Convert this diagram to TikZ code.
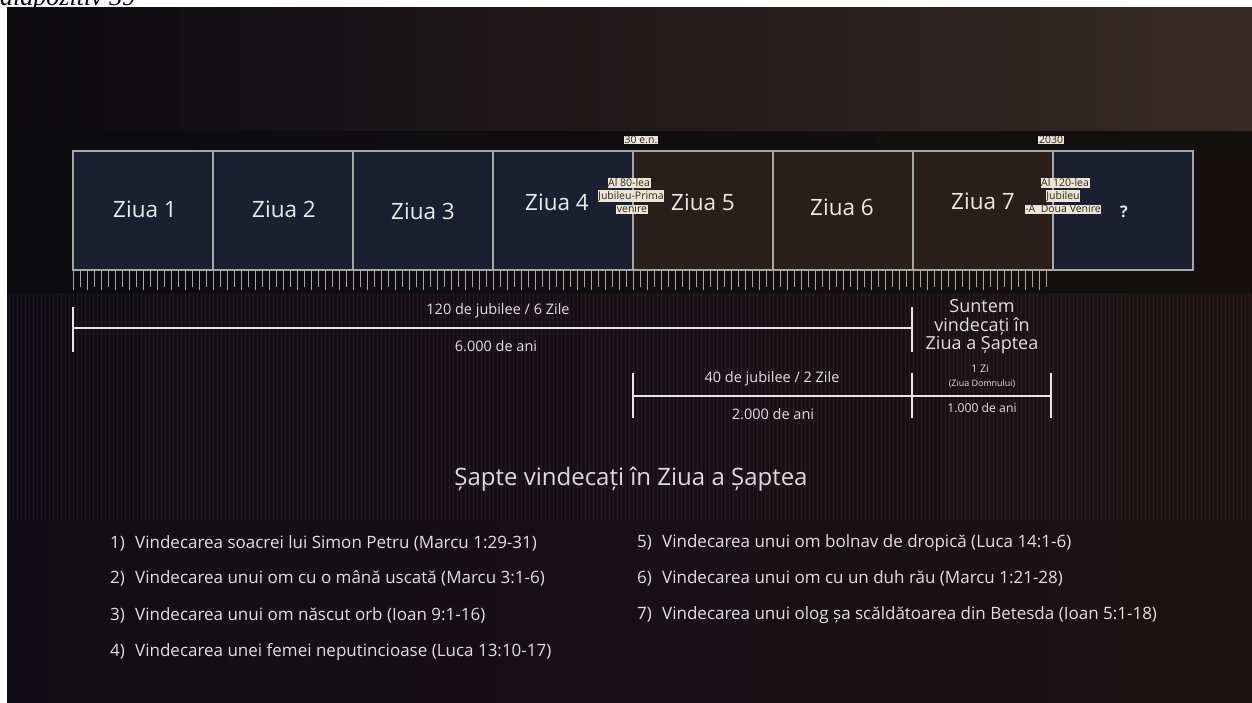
\documentclass[tikz,border=0pt]{standalone}
\usepackage{fontspec}
\setmainfont{Open Sans}
\newfontfamily\captionserif{Liberation Serif}
\usetikzlibrary{positioning}
\definecolor{topleft}{HTML}{0B0A0F}
\definecolor{topright}{HTML}{382A27}
\definecolor{midleft}{HTML}{0B0B0F}
\definecolor{midright}{HTML}{15100F}
\definecolor{lowleft}{HTML}{100E14}
\definecolor{lowright}{HTML}{1E1114}
\definecolor{daynavy}{HTML}{1B2030}
\definecolor{daybrown}{HTML}{2A1E1A}
\definecolor{boxline}{HTML}{A6A6A6}
\definecolor{tagfill}{HTML}{EEE6D2}
\definecolor{tagtext}{HTML}{2A2622}
\definecolor{spanline}{HTML}{E6E6E6}

\begin{document}
\begin{tikzpicture}[x=1pt,y=-1pt,
  daybox/.style={draw=boxline,line width=1.3pt,minimum width=140pt,minimum height=119pt,inner sep=0pt},
  daylbl/.style={text=white!92!black,font=\fontsize{22.5}{26}\selectfont},
  tag/.style={fill=tagfill,text=tagtext,inner sep=0.6pt,font=\fontsize{10.5}{12}\selectfont},
  tickline/.style={draw=boxline,line width=0.9pt},
  span/.style={draw=spanline,line width=2.2pt},
  spanlbl/.style={text=white!88!black,font=\fontsize{14.5}{16}\selectfont},
  item/.style={anchor=west,inner sep=0pt,text=white!88!black,font=\fontsize{17}{20}\selectfont}]
\useasboundingbox (0,0) rectangle (1252,702);
\clip (0,0) rectangle (1252,702);
\fill[white] (0,0) rectangle (1252,702);
\node[anchor=base west,inner sep=0pt,font=\captionserif\itshape\fontsize{26}{30}\selectfont] (slidenr) at (0,5) {diapozitiv 39};

% background
\shade[left color=topleft,right color=topright] (7,7) rectangle (1252,131);
\shade[left color=midleft,right color=midright] (7,131) rectangle (1252,293);
\shade[left color=lowleft,right color=lowright] (7,293) rectangle (1252,702);
\foreach \s in {0,...,310}
  \draw[white,opacity=0.05,line width=1pt] ({9+4*\s},293) -- ({9+4*\s},520);

% the days
\foreach \i/\c in {1/daynavy,2/daynavy,3/daynavy,4/daynavy,5/daybrown,6/daybrown,7/daybrown,8/daynavy}
  \node[daybox,fill=\c] (box\i) at ({3+140*\i},210.5) {};
\foreach \k in {0,...,139}
  \draw[tickline] ({73+7*\k},271) -- ({73+7*\k},{mod(\k,2)==0 ? 290 : 287});

\node[daylbl] (ziua1) at (145,209) {Ziua 1};
\node[daylbl] (ziua2) at (284,209) {Ziua 2};
\node[daylbl] (ziua3) at (423,211) {Ziua 3};
\node[daylbl] (ziua4) at (557,202) {Ziua 4};
\node[daylbl] (ziua5) at (703,202) {Ziua 5};
\node[daylbl] (ziua6) at (842,207) {Ziua 6};
\node[daylbl] (ziua7) at (983,201) {Ziua 7};
\node[daylbl,font=\fontsize{16}{18}\selectfont\bfseries] (later) at (1124,212) {?};

% markers
\node[tag] (en30) at (641,140) {30 e.n.};
\node[tag] (y2030) at (1051,140) {2030};
\node[tag] (jub80a) at (629,183) {Al 80-lea};
\node[tag] (jub80b) at (631,196) {Jubileu-Prima};
\node[tag] (jub80c) at (632,209) {venire};
\node[tag] (jub120a) at (1065,183) {Al 120-lea};
\node[tag] (jub120b) at (1063,196) {Jubileu};
\node[tag] (jub120c) at (1063,209) {-A\ \ Doua Venire};

% spans
\draw[span] (73,307) -- (73,352) (912,307) -- (912,352) (73,328) -- (912,328);
\draw[span] (633,373) -- (633,418) (912,373) -- (912,418) (1051,373) -- (1051,418) (633,396) -- (1051,396);
\node[spanlbl] (jub120) at (498,311) {120 de jubilee / 6 Zile};
\node[spanlbl] (ani6000) at (496,346) {6.000 de ani};
\node[spanlbl] (jub40) at (772,379) {40 de jubilee / 2 Zile};
\node[spanlbl] (ani2000) at (773,414) {2.000 de ani};
\node[spanlbl,font=\fontsize{10.5}{12}\selectfont] (zi1) at (980,369) {1 Zi};
\node[spanlbl,font=\fontsize{8.9}{10}\selectfont] (domnului) at (982,384) {(Ziua Domnului)};
\node[spanlbl,font=\fontsize{12.2}{14}\selectfont] (ani1000) at (982,408) {1.000 de ani};
\node[spanlbl,align=center,font=\fontsize{18}{18.5}\selectfont] (suntem) at (982,327) {Suntem\\vindecați în\\Ziua a Șaptea};

% list
\node[text=white!86!black,font=\fontsize{24}{28}\selectfont] (titlu) at (631,479) {Șapte vindecați în Ziua a Șaptea};
\node[item] (v1) at (110,543) {\makebox[25pt][l]{1)}Vindecarea soacrei lui Simon Petru (Marcu 1:29-31)};
\node[item] (v2) at (110,578) {\makebox[25pt][l]{2)}Vindecarea unui om cu o mână uscată (Marcu 3:1-6)};
\node[item] (v3) at (110,615) {\makebox[25pt][l]{3)}Vindecarea unui om născut orb (Ioan 9:1-16)};
\node[item] (v4) at (110,652) {\makebox[25pt][l]{4)}Vindecarea unei femei neputincioase (Luca 13:10-17)};
\node[item] (v5) at (637,543) {\makebox[25pt][l]{5)}Vindecarea unui om bolnav de dropică (Luca 14:1-6)};
\node[item] (v6) at (637,578) {\makebox[25pt][l]{6)}Vindecarea unui om cu un duh rău (Marcu 1:21-28)};
\node[item] (v7) at (637,615) {\makebox[25pt][l]{7)}Vindecarea unui olog șa scăldătoarea din Betesda (Ioan 5:1-18)};
\end{tikzpicture}
\end{document}
